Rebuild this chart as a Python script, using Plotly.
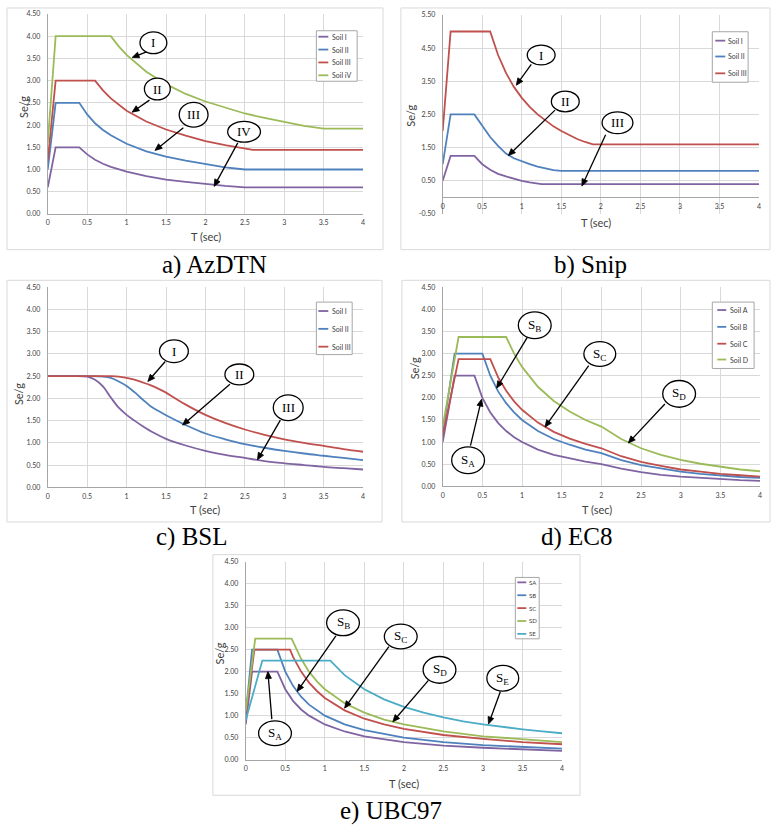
import math
import plotly.graph_objects as go

W, H = 773, 829
PURPLE, BLUE, RED, GREEN, CYAN = "#8064A2", "#4F81BD", "#C0504D", "#9BBB59", "#4BACC6"
GRID = "#d9d9d9"
AXL = "#a6a6a6"
TICKF = dict(family="Lato", size=7, color="#404040")

# ---------------- a) AzDTN ----------------
az_names = ["Soil I", "Soil II", "Soil III", "Soil iV"]
az_t12 = [0, 0.1, 0.4, 0.5, 0.6, 0.7, 0.8, 0.9, 1.0, 1.25, 1.5, 1.75, 2.0, 2.25, 2.5, 4.0]
az_s1 = [0.6, 1.5, 1.5, 1.34, 1.22, 1.13, 1.06, 1.0, 0.95, 0.85, 0.77, 0.72, 0.67, 0.63, 0.6, 0.6]
az_s2 = [1.0, 2.5, 2.5, 2.24, 2.04, 1.89, 1.77, 1.67, 1.58, 1.41, 1.29, 1.20, 1.12, 1.05, 1.0, 1.0]
az_t3 = [0, 0.1, 0.6, 0.7, 0.8, 0.9, 1.0, 1.25, 1.5, 1.75, 2.0, 2.25, 2.6, 4.0]
az_s3 = [1.2, 3.0, 3.0, 2.78, 2.60, 2.45, 2.32, 2.08, 1.90, 1.76, 1.64, 1.55, 1.44, 1.44]
az_t4 = [0, 0.1, 0.8, 0.9, 1.0, 1.25, 1.5, 1.75, 2.0, 2.25, 2.5, 2.75, 3.0, 3.25, 3.5, 4.0]
az_s4 = [1.6, 4.0, 4.0, 3.77, 3.58, 3.20, 2.92, 2.70, 2.53, 2.39, 2.26, 2.16, 2.07, 1.98, 1.92, 1.92]

# ---------------- b) Snip ----------------
sn_names = ["Soil I", "Soil II", "Soil III"]
sn_t1 = [0, 0.1, 0.4, 0.5, 0.6, 0.7, 0.8, 0.9, 1.0, 1.1, 1.2, 1.25, 4.0]
sn_s1 = [0.5, 1.25, 1.25, 1.0, 0.83, 0.71, 0.63, 0.56, 0.5, 0.45, 0.42, 0.4, 0.4]
sn_t2 = [0, 0.1, 0.4, 0.5, 0.6, 0.7, 0.8, 0.9, 1.0, 1.1, 1.2, 1.3, 1.4, 1.5, 4.0]
sn_s2 = [1.0, 2.5, 2.5, 2.15, 1.82, 1.55, 1.32, 1.18, 1.08, 1.0, 0.93, 0.87, 0.82, 0.8, 0.8]
sn_t3 = [0, 0.1, 0.6, 0.7, 0.8, 0.9, 1.0, 1.1, 1.2, 1.3, 1.4, 1.5, 1.6, 1.7, 1.8, 1.9, 4.0]
sn_s3 = [2.0, 5.0, 5.0, 4.29, 3.75, 3.33, 3.0, 2.73, 2.5, 2.31, 2.14, 2.0, 1.88, 1.76, 1.67, 1.6, 1.6]

# ---------------- c) BSL ----------------
bs_names = ["Soil I", "Soil II", "Soil III"]
bs_t1 = [0, 0.25, 0.5, 0.6, 0.7, 0.8, 0.9, 1.0, 1.1, 1.2, 1.35, 1.5, 1.75, 2.0, 2.25, 2.5, 2.75, 3.0, 3.25, 3.5, 3.75, 4.0]
bs_s1 = [2.5, 2.5, 2.49, 2.42, 2.27, 2.02, 1.79, 1.63, 1.50, 1.38, 1.22, 1.09, 0.94, 0.82, 0.73, 0.66, 0.59, 0.54, 0.50, 0.46, 0.43, 0.40]
bs_t2 = [0, 0.5, 0.7, 0.8, 0.9, 1.0, 1.1, 1.2, 1.3, 1.4, 1.5, 1.75, 2.0, 2.25, 2.5, 2.75, 3.0, 3.25, 3.5, 3.75, 4.0]
bs_s2 = [2.5, 2.5, 2.49, 2.46, 2.38, 2.28, 2.14, 1.98, 1.83, 1.72, 1.62, 1.40, 1.21, 1.08, 0.97, 0.89, 0.82, 0.76, 0.71, 0.66, 0.61]
bs_t3 = [0, 0.5, 0.8, 0.9, 1.0, 1.1, 1.2, 1.3, 1.4, 1.5, 1.6, 1.75, 2.0, 2.25, 2.5, 2.75, 3.0, 3.25, 3.5, 3.75, 4.0]
bs_s3 = [2.5, 2.5, 2.5, 2.49, 2.46, 2.42, 2.36, 2.30, 2.22, 2.13, 2.02, 1.86, 1.63, 1.45, 1.30, 1.18, 1.08, 1.00, 0.93, 0.86, 0.80]

# ---------------- d) EC8 ----------------
ec_names = ["Soil A", "Soil B", "Soil C", "Soil D"]
ec_tA = [0, 0.15, 0.4, 0.5, 0.6, 0.7, 0.8, 0.9, 1.0, 1.2, 1.4, 1.6, 1.8, 2.0, 2.25, 2.5, 2.75, 3.0, 3.25, 3.5, 3.75, 4.0]
ec_sA = [1.0, 2.5, 2.5, 2.0, 1.67, 1.43, 1.25, 1.11, 1.0, 0.83, 0.71, 0.63, 0.56, 0.5, 0.40, 0.32, 0.26, 0.22, 0.19, 0.16, 0.14, 0.125]
ec_tB = [0, 0.15, 0.5, 0.6, 0.7, 0.8, 0.9, 1.0, 1.2, 1.4, 1.6, 1.8, 2.0, 2.25, 2.5, 2.75, 3.0, 3.25, 3.5, 3.75, 4.0]
ec_sB = [1.2, 3.0, 3.0, 2.5, 2.14, 1.88, 1.67, 1.5, 1.25, 1.07, 0.94, 0.83, 0.75, 0.59, 0.48, 0.40, 0.33, 0.28, 0.24, 0.21, 0.19]
ec_tC = [0, 0.2, 0.6, 0.7, 0.8, 0.9, 1.0, 1.2, 1.4, 1.6, 1.8, 2.0, 2.25, 2.5, 2.75, 3.0, 3.25, 3.5, 3.75, 4.0]
ec_sC = [1.15, 2.875, 2.875, 2.46, 2.16, 1.92, 1.73, 1.44, 1.23, 1.08, 0.96, 0.86, 0.68, 0.55, 0.46, 0.38, 0.33, 0.28, 0.25, 0.22]
ec_tD = [0, 0.2, 0.8, 0.9, 1.0, 1.2, 1.4, 1.6, 1.8, 2.0, 2.25, 2.5, 2.75, 3.0, 3.25, 3.5, 3.75, 4.0]
ec_sD = [1.35, 3.375, 3.375, 3.0, 2.7, 2.25, 1.93, 1.69, 1.5, 1.35, 1.07, 0.86, 0.71, 0.6, 0.51, 0.44, 0.38, 0.34]

# ---------------- e) UBC97 ----------------
ub_names = ["SA", "SB", "SC", "SD", "SE"]
ub_tAB = [0, 0.08, 0.4, 0.5, 0.6, 0.7, 0.8, 1.0, 1.25, 1.5, 2.0, 2.5, 3.0, 3.5, 4.0]
ub_sA = [0.8, 2.0, 2.0, 1.6, 1.33, 1.14, 1.0, 0.8, 0.64, 0.53, 0.4, 0.32, 0.27, 0.23, 0.2]
ub_sB = [1.0, 2.5, 2.5, 2.0, 1.67, 1.43, 1.25, 1.0, 0.8, 0.67, 0.5, 0.4, 0.33, 0.29, 0.25]
ub_tC = [0, 0.11, 0.56, 0.6, 0.7, 0.8, 0.9, 1.0, 1.25, 1.5, 1.75, 2.0, 2.5, 3.0, 3.5, 4.0]
ub_sC = [1.0, 2.5, 2.5, 2.33, 2.0, 1.75, 1.56, 1.4, 1.12, 0.93, 0.8, 0.7, 0.56, 0.47, 0.4, 0.35]
ub_tD = [0, 0.12, 0.58, 0.6, 0.7, 0.8, 0.9, 1.0, 1.25, 1.5, 1.75, 2.0, 2.5, 3.0, 3.5, 4.0]
ub_sD = [1.1, 2.75, 2.75, 2.67, 2.29, 2.0, 1.78, 1.6, 1.28, 1.07, 0.91, 0.8, 0.64, 0.53, 0.46, 0.4]
ub_tE = [0, 0.21, 1.07, 1.25, 1.5, 1.75, 2.0, 2.25, 2.5, 2.75, 3.0, 3.25, 3.5, 3.75, 4.0]
ub_sE = [0.9, 2.25, 2.25, 1.92, 1.6, 1.37, 1.2, 1.07, 0.96, 0.87, 0.8, 0.74, 0.69, 0.64, 0.6]

captions = ["a) AzDTN", "b) Snip", "c) BSL", "d) EC8", "e) UBC97"]
x_ticks = [0, 0.5, 1, 1.5, 2, 2.5, 3, 3.5, 4]
y_ticks_std = [0, 0.5, 1.0, 1.5, 2.0, 2.5, 3.0, 3.5, 4.0, 4.5]
y_ticks_snip = [-0.5, 0.5, 1.5, 2.5, 3.5, 4.5, 5.5]

# ---------------- layout geometry (pixels) ----------------
GEOM = {1: (46, 363, 9, 211), 2: (443, 761, 10, 211), 3: (46, 363, 285, 487),
        4: (443, 762, 285, 486), 5: (245, 563, 562, 762)}
YR = {1: [0, 4.5], 2: [-0.5, 5.5], 3: [0, 4.5], 4: [0, 4.5], 5: [0, 4.5]}
YT = {1: y_ticks_std, 2: y_ticks_snip, 3: y_ticks_std, 4: y_ticks_std, 5: y_ticks_std}
BOXES = [(5, 3, 383, 247), (401, 3, 772, 247), (5, 278, 382, 522), (402, 278, 772, 522), (212, 555, 581, 798)]


def PX(x):
    return x / W


def PY(y):
    return 1 - y / H


def sfx(i):
    return "" if i == 1 else str(i)


def to_px(i, t, v):
    x0, x1, y0, y1 = GEOM[i]
    lo, hi = YR[i]
    return x0 + t / 4.0 * (x1 - x0), y1 - (v - lo) / (hi - lo) * (y1 - y0)


fig = go.Figure()
layout = dict(width=W, height=H, margin=dict(l=0, r=0, t=0, b=0),
              paper_bgcolor="white", plot_bgcolor="white", showlegend=False)

for i in range(1, 6):
    x0, x1, y0, y1 = GEOM[i]
    s = sfx(i)
    xa = dict(domain=[PX(x0), PX(x1)], anchor="y" + s, range=[0, 4], tickvals=x_ticks,
              ticktext=[("%g" % t) for t in x_ticks], showgrid=True, gridcolor=GRID, gridwidth=1,
              showline=True, linecolor=AXL, linewidth=1, mirror=False, zeroline=False,
              ticks="", tickfont=TICKF, ticklabelstandoff=2, fixedrange=True)
    ya = dict(domain=[PY(y1), PY(y0)], anchor="x" + s, range=YR[i], tickvals=YT[i],
              ticktext=["%.2f" % v for v in YT[i]], showgrid=True, gridcolor=GRID, gridwidth=1,
              showline=True, linecolor=AXL, linewidth=1, zeroline=False,
              ticks="", tickfont=TICKF, ticklabelstandoff=5, fixedrange=True)
    if i == 2:
        _, zero_py = to_px(2, 0, 0)
        xa.update(anchor="free", position=PY(zero_py))
    layout["xaxis" + s] = xa
    layout["yaxis" + s] = ya

fig.update_layout(**layout)


def add(i, t, v, color, shape="linear"):
    s = sfx(i)
    fig.add_trace(go.Scatter(x=t, y=v, xaxis="x" + s, yaxis="y" + s, mode="lines",
                             line=dict(color=color, width=1.8, shape=shape),
                             hoverinfo="skip", showlegend=False))


add(1, az_t12, az_s1, PURPLE); add(1, az_t12, az_s2, BLUE); add(1, az_t3, az_s3, RED); add(1, az_t4, az_s4, GREEN)
add(2, sn_t1, sn_s1, PURPLE); add(2, sn_t2, sn_s2, BLUE); add(2, sn_t3, sn_s3, RED)
add(3, bs_t1, bs_s1, PURPLE, "spline"); add(3, bs_t2, bs_s2, BLUE, "spline"); add(3, bs_t3, bs_s3, RED, "spline")
add(4, ec_tA, ec_sA, PURPLE); add(4, ec_tB, ec_sB, BLUE); add(4, ec_tC, ec_sC, RED); add(4, ec_tD, ec_sD, GREEN)
add(5, ub_tAB, ub_sA, PURPLE); add(5, ub_tAB, ub_sB, BLUE); add(5, ub_tC, ub_sC, RED); add(5, ub_tD, ub_sD, GREEN); add(5, ub_tE, ub_sE, CYAN)

shapes = []
annots = []

# chart frames
for (bx0, by0, bx1, by1) in BOXES:
    shapes.append(dict(type="rect", xref="paper", yref="paper", x0=PX(bx0), x1=PX(bx1), y0=PY(by1), y1=PY(by0),
                       line=dict(color=GRID, width=1), layer="below"))

# captions
CAP_POS = [(214, 263), (592, 263), (191, 537), (578, 537), (391, 814)]
for txt, (cx, cy) in zip(captions, CAP_POS):
    annots.append(dict(text=txt, x=PX(cx), y=PY(cy), xref="paper", yref="paper", showarrow=False,
                       font=dict(family="Liberation Serif", size=25, color="black"), xanchor="center", yanchor="middle"))

# axis titles
XT_POS = [(205, 234), (597, 220), (204, 509), (598, 509), (404, 786)]
YT_POS = [(21, 103), (411, 112), (16, 393), (415, 367), (219, 655)]
for (tx, ty) in XT_POS:
    annots.append(dict(text="T (sec)", x=PX(tx), y=PY(ty), xref="paper", yref="paper", showarrow=False,
                       xanchor="center", yanchor="middle",
                       font=dict(family="Lato", size=11, color="#404040")))
for (tx, ty) in YT_POS:
    annots.append(dict(text="Se/g", x=PX(tx), y=PY(ty), xref="paper", yref="paper", showarrow=False,
                       xanchor="center", yanchor="middle",
                       textangle=-90, font=dict(family="Lato", size=11, color="#404040")))

# legends (pixel layout)
LEG = [
    ((316, 26, 357, 77), [32, 45, 58, 71], 318, 328, 330, az_names, [PURPLE, BLUE, RED, GREEN], 7),
    ((714, 27, 750, 78), [36, 52, 69], 717, 727, 728, sn_names, [PURPLE, BLUE, RED], 7),
    ((316, 300, 352, 353), [309, 327, 345], 318, 328, 330, bs_names, [PURPLE, BLUE, RED], 7),
    ((714, 300, 756, 367), [308, 325, 342, 358], 719, 728, 730, ec_names, [PURPLE, BLUE, RED, GREEN], 7),
    ((516, 578, 540, 640), [583, 596, 609, 622, 635], 518, 527, 528, ub_names, [PURPLE, BLUE, RED, GREEN, CYAN], 6),
]
for ((lx0, ly0, lx1, ly1), ys, sx0, sx1, tx, names, cols, fs) in LEG:
    shapes.append(dict(type="rect", xref="paper", yref="paper", x0=PX(lx0), x1=PX(lx1), y0=PY(ly1), y1=PY(ly0),
                       line=dict(color="#a6a6a6", width=1), fillcolor="white"))
    for yy, nm, c in zip(ys, names, cols):
        shapes.append(dict(type="line", xref="paper", yref="paper", x0=PX(sx0), x1=PX(sx1), y0=PY(yy), y1=PY(yy),
                           line=dict(color=c, width=1.8)))
        annots.append(dict(text=nm, x=PX(tx), y=PY(yy), xref="paper", yref="paper", showarrow=False,
                           xanchor="left", yanchor="middle", font=dict(family="Lato", size=fs, color="#404040")))

# callout ellipses + arrows, in data coordinates: label, centre (T, Se/g), radii (px), tail (T,v), head (T,v)
CALL = {
    1: [("I", (1.34, 3.85), (13.5, 11), (1.26, 3.65), (1.07, 3.52)),
        ("II", (1.39, 2.81), (13, 11), (1.29, 2.56), (1.07, 2.29)),
        ("III", (1.85, 2.23), (14.5, 12.5), (1.72, 1.94), (1.36, 1.43)),
        ("IV", (2.49, 1.85), (16.5, 10.5), (2.41, 1.60), (2.11, 0.62))],
    2: [("I", (1.245, 4.29), (14, 10), (1.12, 4.01), (0.93, 3.38)),
        ("II", (1.55, 2.89), (14, 10.5), (1.42, 2.63), (0.83, 1.26)),
        ("III", (2.21, 2.25), (15.5, 11), (2.06, 1.89), (1.76, 0.34))],
    3: [("I", (1.60, 3.06), (14.5, 11.5), (1.49, 2.83), (1.27, 2.38)),
        ("II", (2.43, 2.54), (14.5, 10.5), (2.31, 2.32), (1.71, 1.40)),
        ("III", (3.05, 1.79), (15, 13), (2.95, 1.51), (2.66, 0.62))],
    4: [("S<sub>B</sub>", (1.16, 3.64), (16.5, 13.5), (1.07, 3.38), (0.68, 2.22)),
        ("S<sub>C</sub>", (1.98, 2.99), (16, 12.5), (1.84, 2.73), (1.29, 1.34)),
        ("S<sub>D</sub>", (2.98, 2.09), (16.5, 13.5), (2.80, 1.86), (2.34, 0.98)),
        ("S<sub>A</sub>", (0.32, 0.59), (16.5, 13.5), (0.35, 0.92), (0.49, 1.97))],
    5: [("S<sub>B</sub>", (1.23, 3.11), (16.5, 13), (1.14, 2.81), (0.65, 1.55)),
        ("S<sub>C</sub>", (1.96, 2.80), (16.5, 12.5), (1.81, 2.57), (1.25, 1.17)),
        ("S<sub>D</sub>", (2.45, 2.04), (16.5, 13.5), (2.31, 1.80), (1.86, 0.86)),
        ("S<sub>E</sub>", (3.25, 1.85), (16, 13), (3.22, 1.55), (3.07, 0.81)),
        ("S<sub>A</sub>", (0.37, 0.60), (16.5, 12.5), (0.33, 0.92), (0.28, 2.0))],
}
AH_LEN, AH_HALF = 7.0, 3.0
for i, items in CALL.items():
    x0, x1, y0, y1 = GEOM[i]
    sxp = (x1 - x0) / 4.0
    syp = (y1 - y0) / (YR[i][1] - YR[i][0])
    s = sfx(i)
    for (lab, (cx, cy), (rx, ry), tail, head) in items:
        tx_, ty_ = to_px(i, *tail)
        hx_, hy_ = to_px(i, *head)
        dx, dy = hx_ - tx_, hy_ - ty_
        L = math.hypot(dx, dy)
        ux, uy = dx / L, dy / L
        bx, by = hx_ - ux * AH_LEN, hy_ - uy * AH_LEN
        shapes.append(dict(type="line", xref="paper", yref="paper",
                           x0=PX(tx_), y0=PY(ty_), x1=PX(bx + ux * 1.0), y1=PY(by + uy * 1.0),
                           line=dict(color="black", width=1.3)))
        p1 = (bx - uy * AH_HALF, by + ux * AH_HALF)
        p2 = (bx + uy * AH_HALF, by - ux * AH_HALF)
        path = "M %.5f %.5f L %.5f %.5f L %.5f %.5f Z" % (PX(hx_), PY(hy_), PX(p1[0]), PY(p1[1]), PX(p2[0]), PY(p2[1]))
        shapes.append(dict(type="path", xref="paper", yref="paper", path=path,
                           fillcolor="black", line=dict(color="black", width=0.8)))
        shapes.append(dict(type="circle", xref="x" + s, yref="y" + s,
                           x0=cx - rx / sxp, x1=cx + rx / sxp, y0=cy - ry / syp, y1=cy + ry / syp,
                           line=dict(color="black", width=1.3), fillcolor="white", layer="above"))
        annots.append(dict(text=lab, x=cx, y=cy, xref="x" + s, yref="y" + s, showarrow=False,
                           xanchor="center", yanchor="middle",
                           font=dict(family="Liberation Serif", size=13, color="black")))

fig.update_layout(shapes=shapes, annotations=annots)
fig.write_html("out.html", config={"displayModeBar": False},
               post_script="document.body.style.margin='0';document.body.style.overflow='hidden';")
